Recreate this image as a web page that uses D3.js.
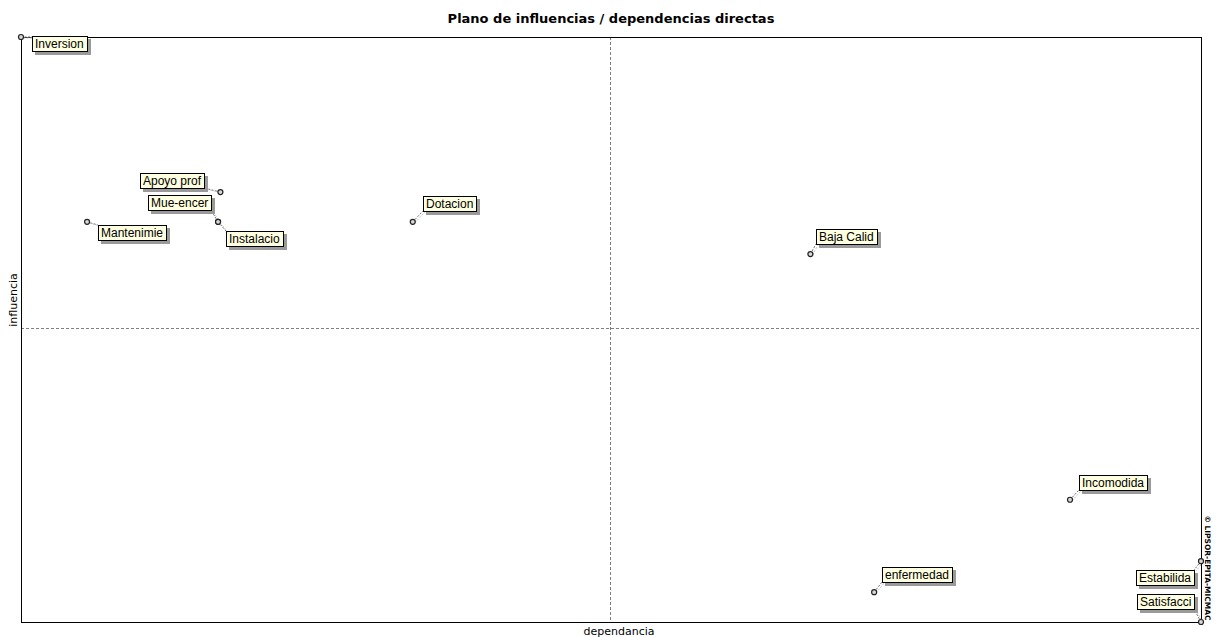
<!DOCTYPE html>
<html>
<meta charset="utf-8">
<title>Plano de influencias / dependencias directas</title>
<style>
	body {
		margin: 0;
		background: #fff;
		font-family: "Liberation Sans", Arial, sans-serif;
	}

	.frame {
		fill: none;
		stroke: #000;
		stroke-width: 1;
		shape-rendering: crispEdges;
	}

	.mid {
		stroke: #808080;
		stroke-dasharray: 3, 2;
		shape-rendering: crispEdges;
	}

	.leader {
		stroke: #707070;
		stroke-dasharray: 2, 1.5;
	}

	.label rect.box {
		fill: #ffffe1;
		stroke: #000;
		shape-rendering: crispEdges;
	}

	.label rect.shadow {
		fill: #9a9a9a;
		shape-rendering: crispEdges;
	}

	.label text {
		font: 12px "Liberation Sans", Arial, sans-serif;
		fill: #000;
	}
</style>

<body>
	<script src="https://cdnjs.cloudflare.com/ajax/libs/d3/7.8.5/d3.min.js"></script>
	<script>
		// variables (MICMAC direct influence / dependence)
		var names = ["Inversion", "Apoyo prof", "Mue-encer", "Instalacio", "Mantenimie",
			"Dotacion", "Baja Calid", "Incomodida", "enfermedad", "Estabilida", "Satisfacci"];
		var dependence = [0, 16.9, 16.7, 16.7, 5.6, 33.2, 66.9, 88.9, 72.3, 100, 100];
		var influence = [100, 73.5, 68.4, 68.4, 68.4, 68.4, 62.9, 20.9, 5.1, 10.4, 0];

		// where each label box sits relative to its point (dx, dy of top-left corner)
		var labelOffsets = [[11, -1], [-80, -19], [-70, -27], [8, 9], [11, 3],
			[10, -26], [6, -25], [9, -25], [8, -25], [-65, 9], [-64, -28]];

		var W = 1217, H = 637;
		var plot = { left: 21, right: 1201, top: 37, bottom: 622 };

		var svg = d3.select("body").append("svg")
			.attr("width", W)
			.attr("height", H);

		var x = d3.scaleLinear().domain([0, 100]).range([plot.left, plot.right]);
		var y = d3.scaleLinear().domain([0, 100]).range([plot.bottom, plot.top]);

		svg.append("text")
			.attr("x", 611)
			.attr("y", 23)
			.attr("text-anchor", "middle")
			.style("font", "bold 13px 'DejaVu Sans', sans-serif")
			.text("Plano de influencias / dependencias directas");

		// mean lines
		var mx = d3.mean(x.domain()), my = d3.mean(y.domain());
		svg.append("line").attr("class", "mid")
			.attr("x1", Math.floor(x(mx)) - 0.5).attr("x2", Math.floor(x(mx)) - 0.5)
			.attr("y1", plot.top).attr("y2", plot.bottom);
		svg.append("line").attr("class", "mid")
			.attr("x1", plot.left).attr("x2", plot.right)
			.attr("y1", Math.floor(y(my)) - 0.5).attr("y2", Math.floor(y(my)) - 0.5);

		svg.append("rect").attr("class", "frame")
			.attr("x", plot.left + 0.5).attr("y", plot.top + 0.5)
			.attr("width", plot.right - plot.left).attr("height", plot.bottom - plot.top);

		// axis titles
		svg.append("text")
			.attr("x", 619).attr("y", 635)
			.attr("text-anchor", "middle")
			.style("font", "11px 'DejaVu Sans', sans-serif")
			.text("dependancia");
		svg.append("text")
			.attr("transform", "translate(17,300) rotate(-90)")
			.attr("text-anchor", "middle")
			.style("font", "11px 'DejaVu Sans', sans-serif")
			.text("influencia");

		// watermark
		svg.append("text")
			.attr("transform", "translate(1205,568) rotate(90)")
			.attr("text-anchor", "middle")
			.style("font", "bold 7.5px 'DejaVu Sans', sans-serif")
			.text("© LIPSOR-EPITA-MICMAC");

		var data = names.map(function (n, i) {
			return { name: n, dep: dependence[i], inf: influence[i], off: labelOffsets[i] };
		});

		var lbl = svg.append("g").selectAll("g")
			.data(data)
			.enter().append("g")
			.attr("class", "label");

		lbl.each(function (d) {
			var g = d3.select(this);
			var px = x(d.dep), py = y(d.inf);
			var t = g.append("text").text(d.name);
			var tw = t.node().getComputedTextLength();
			var bw = Math.round(tw + 6), bh = 15;
			var bx = Math.round(px + d.off[0]), by = Math.round(py + d.off[1]);

			// leader from point to nearest point of the box
			var cx = Math.max(bx, Math.min(px, bx + bw));
			var cy = Math.max(by, Math.min(py, by + bh));
			g.insert("line", "text").attr("class", "leader")
				.attr("x1", px).attr("y1", py).attr("x2", cx).attr("y2", cy);
			g.insert("line", "text").attr("class", "leader")
				.attr("x1", px + 2).attr("y1", py + 1).attr("x2", cx + 2).attr("y2", cy + 1)
				.style("stroke", "#c4c4c4");

			g.insert("rect", "text").attr("class", "shadow")
				.attr("x", bx + 3).attr("y", by + 3)
				.attr("width", bw + 1).attr("height", bh + 1);
			g.insert("rect", "text").attr("class", "box")
				.attr("x", bx + 0.5).attr("y", by + 0.5)
				.attr("width", bw).attr("height", bh);
			t.attr("x", bx + 3).attr("y", by + 12);

			g.append("circle")
				.attr("cx", px).attr("cy", py).attr("r", 2.5)
				.style("fill", "#d8d8d8")
				.style("stroke", "#222")
				.style("stroke-width", 1.2);
		});
	</script>
</body>
</html>
